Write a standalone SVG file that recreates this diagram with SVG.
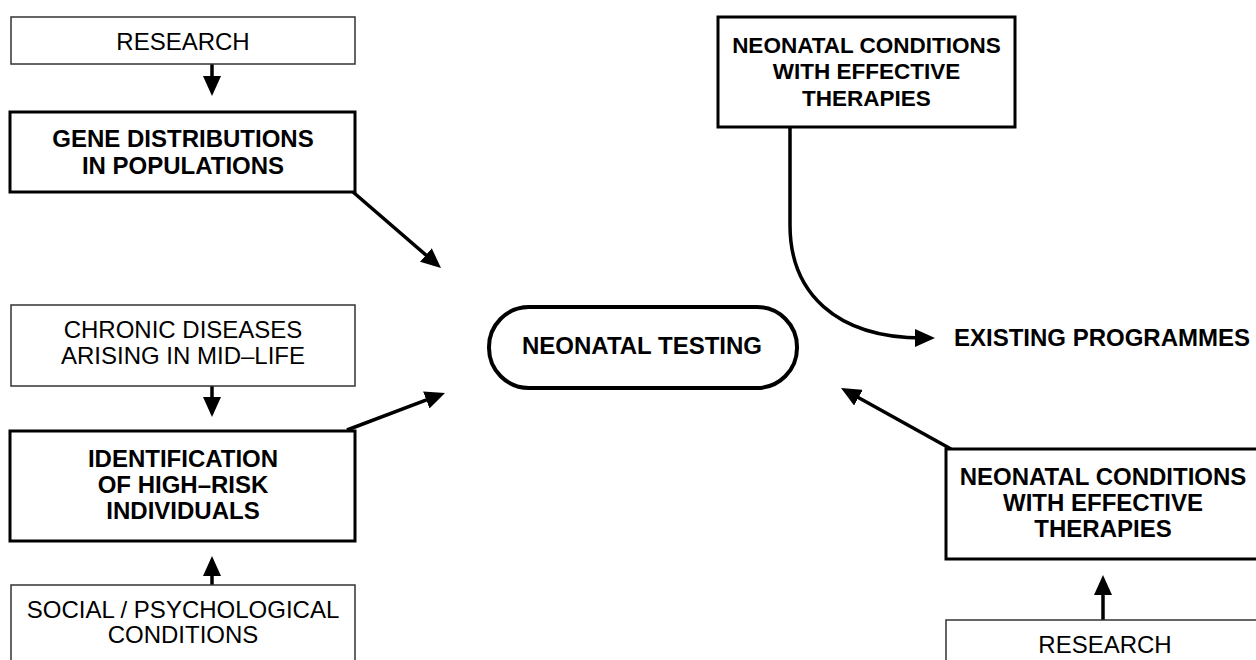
<svg xmlns="http://www.w3.org/2000/svg" width="1256" height="660" viewBox="0 0 1256 660">
<defs>
<style>
.thin{fill:#fff;stroke:#333;stroke-width:1.5}
.thick{fill:#fff;stroke:#000;stroke-width:3}
.pill{fill:#fff;stroke:#000;stroke-width:4}
.t{font-family:"Liberation Sans",Arial,sans-serif;font-size:24px;fill:#000;text-anchor:middle}
.b{font-weight:bold}
.s{font-size:22.5px}
.l{text-anchor:start}
.c{fill:none;stroke:#000;stroke-width:3.5}
</style>
<marker id="ah" viewBox="0 0 20 18" refX="8" refY="9" markerWidth="20" markerHeight="18" markerUnits="userSpaceOnUse" orient="auto">
<path d="M0,0 L20,9 L0,18 z" fill="#000"/>
</marker>
</defs>
<rect width="1256" height="660" fill="#fff"/>
<g id="connectors">
<path class="c" d="M212,64 V84" marker-end="url(#ah)"/>
<path class="c" d="M353,192 L431.9,260.2" marker-end="url(#ah)"/>
<path class="c" d="M212,386 V405" marker-end="url(#ah)"/>
<path class="c" d="M347,430 L433.8,397.2" marker-end="url(#ah)"/>
<path class="c" d="M212,585 V568" marker-end="url(#ah)"/>
<path class="c" d="M951,449 L851.5,393.8" marker-end="url(#ah)"/>
<path class="c" d="M1103,620 V587" marker-end="url(#ah)"/>
<path class="c" d="M790,127 V225 C790,292 835,338 923,338" marker-end="url(#ah)"/>
</g>
<g id="research-top">
<rect class="thin" x="11" y="17" width="344" height="47"/>
<text class="t" x="183" y="50">RESEARCH</text>
</g>
<g id="gene-distributions">
<rect class="thick" x="10" y="112" width="345" height="80"/>
<text class="t b" x="183" y="147">GENE DISTRIBUTIONS</text>
<text class="t b" x="183" y="174">IN POPULATIONS</text>
</g>
<g id="chronic-diseases">
<rect class="thin" x="11" y="305" width="344" height="81"/>
<text class="t" x="183" y="338">CHRONIC DISEASES</text>
<text class="t" x="183" y="364">ARISING IN MID–LIFE</text>
</g>
<g id="identification">
<rect class="thick" x="10" y="431" width="345" height="110"/>
<text class="t b" x="183" y="467">IDENTIFICATION</text>
<text class="t b" x="183" y="493">OF HIGH–RISK</text>
<text class="t b" x="183" y="519">INDIVIDUALS</text>
</g>
<g id="social-psychological">
<rect class="thin" x="11" y="585" width="344" height="90"/>
<text class="t" x="183" y="618">SOCIAL / PSYCHOLOGICAL</text>
<text class="t" x="183" y="643">CONDITIONS</text>
</g>
<g id="neonatal-testing">
<rect class="pill" x="489" y="307" width="308" height="81" rx="40" ry="40"/>
<text class="t b" x="642" y="354">NEONATAL TESTING</text>
</g>
<g id="neonatal-conditions-top">
<rect class="thick" x="718" y="17" width="297" height="110"/>
<text class="t b s" x="866.5" y="53">NEONATAL CONDITIONS</text>
<text class="t b s" x="866.5" y="79">WITH EFFECTIVE</text>
<text class="t b s" x="866.5" y="106">THERAPIES</text>
</g>
<g id="existing-programmes">
<text class="t b l" x="954" y="346">EXISTING PROGRAMMES</text>
</g>
<g id="neonatal-conditions-right">
<rect class="thick" x="946" y="449" width="320" height="110"/>
<text class="t b" x="1103" y="485">NEONATAL CONDITIONS</text>
<text class="t b" x="1103" y="511">WITH EFFECTIVE</text>
<text class="t b" x="1103" y="537">THERAPIES</text>
</g>
<g id="research-bottom">
<rect class="thin" x="946" y="620" width="320" height="60"/>
<text class="t" x="1105" y="653">RESEARCH</text>
</g>
</svg>
